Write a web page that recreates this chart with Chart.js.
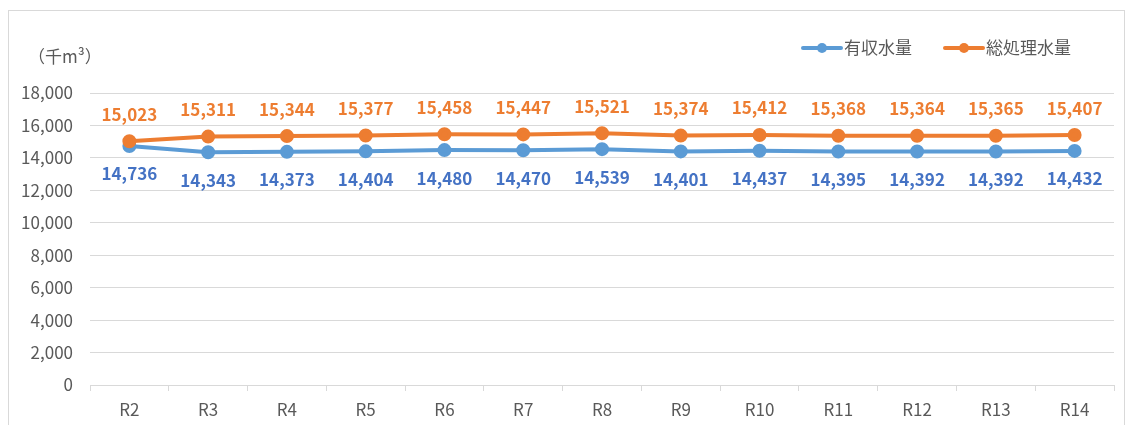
<!DOCTYPE html>
<html lang="ja">
<head>
<meta charset="utf-8">
<script src="https://cdn.jsdelivr.net/npm/chart.js@4.4.1/dist/chart.umd.min.js"></script>
<style>
  html, body { margin: 0; padding: 0; background: #fff; }
  #wrap { position: relative; width: 1131px; height: 425px; }
</style>
</head>
<body>
<div id="wrap"><canvas id="water-chart" width="1131" height="425"></canvas></div>
<script>
(() => {
  const years = ['R2', 'R3', 'R4', 'R5', 'R6', 'R7', 'R8', 'R9', 'R10', 'R11', 'R12', 'R13', 'R14'];
  const billedVolume = [14736, 14343, 14373, 14404, 14480, 14470, 14539, 14401, 14437, 14395, 14392, 14392, 14432];
  const treatedVolume = [15023, 15311, 15344, 15377, 15458, 15447, 15521, 15374, 15412, 15368, 15364, 15365, 15407];
  const yTicks = [0, 2000, 4000, 6000, 8000, 10000, 12000, 14000, 16000, 18000];
  const unitLabel = '（千m³）';

  const FONT = "'Noto Sans CJK JP', 'Noto Sans', sans-serif";
  const BLUE = '#5B9BD5';
  const BLUE_TEXT = '#4472C4';
  const ORANGE = '#ED7D31';
  const GREY_TEXT = '#595959';
  const GRID = '#d9d9d9';

  const canvas = document.getElementById('water-chart');
  if (!canvas || !window.Chart) {
    return;
  }

  // frame, unit label and legend like the Excel original
  const decorations = {
    id: 'decorations',
    beforeDraw(chart) {
      const ctx = chart.ctx;
      ctx.save();
      ctx.strokeStyle = GRID;
      ctx.lineWidth = 1;
      ctx.strokeRect(8.5, 10.5, 1116, 430);
      ctx.restore();
    },
    afterDraw(chart) {
      const ctx = chart.ctx;
      ctx.save();
      ctx.fillStyle = GREY_TEXT;
      ctx.font = `17px ${FONT}`;
      ctx.textBaseline = 'middle';
      ctx.textAlign = 'left';
      ctx.fillText(unitLabel, 28, 57);

      const items = [
        { ds: chart.data.datasets[0], x: 803 },
        { ds: chart.data.datasets[1], x: 945 },
      ];
      const y = 48;
      items.forEach(({ ds, x }) => {
        ctx.strokeStyle = ds.borderColor;
        ctx.lineWidth = 4;
        ctx.lineCap = 'round';
        ctx.beginPath();
        ctx.moveTo(x, y);
        ctx.lineTo(x + 38, y);
        ctx.stroke();
        ctx.fillStyle = ds.borderColor;
        ctx.beginPath();
        ctx.arc(x + 19, y, 5, 0, Math.PI * 2);
        ctx.fill();
        ctx.fillStyle = GREY_TEXT;
        ctx.fillText(ds.label, x + 41, y);
      });
      ctx.restore();
    },
  };

  // value labels: orange above the line, blue below
  const valueLabels = {
    id: 'valueLabels',
    afterDatasetsDraw(chart) {
      const ctx = chart.ctx;
      ctx.save();
      ctx.font = `bold 17px ${FONT}`;
      ctx.textAlign = 'center';
      ctx.textBaseline = 'middle';
      chart.data.datasets.forEach((ds, i) => {
        const meta = chart.getDatasetMeta(i);
        ctx.fillStyle = ds.labelColor;
        meta.data.forEach((pt, j) => {
          const text = ds.data[j].toLocaleString('en-US');
          ctx.fillText(text, pt.x, pt.y + ds.labelOffset);
        });
      });
      ctx.restore();
    },
  };

  new Chart(canvas, {
    type: 'line',
    data: {
      labels: years,
      datasets: [
        {
          label: '有収水量',
          data: billedVolume,
          borderColor: BLUE,
          backgroundColor: BLUE,
          pointBackgroundColor: BLUE,
          pointBorderColor: BLUE,
          borderWidth: 4,
          pointRadius: 5,
          tension: 0,
          order: 2,
          labelColor: BLUE_TEXT,
          labelOffset: 28,
        },
        {
          label: '総処理水量',
          data: treatedVolume,
          borderColor: ORANGE,
          backgroundColor: ORANGE,
          pointBackgroundColor: ORANGE,
          pointBorderColor: ORANGE,
          borderWidth: 4,
          pointRadius: 5,
          tension: 0,
          order: 1,
          labelColor: ORANGE,
          labelOffset: -27,
        },
      ],
    },
    options: {
      responsive: false,
      animation: false,
      layout: {
        padding: { top: 93, right: 17, left: 0, bottom: 0 },
      },
      scales: {
        x: {
          offset: true,
          grid: {
            offset: true,
            drawOnChartArea: false,
            drawTicks: true,
            tickLength: 6,
            color: GRID,
          },
          border: { display: true, color: GRID },
          ticks: {
            color: GREY_TEXT,
            padding: 8,
            font: { size: 17, family: FONT },
          },
          afterFit(scale) {
            scale.height = 40;
          },
        },
        y: {
          min: 0,
          max: 18000,
          afterBuildTicks(scale) {
            scale.ticks = yTicks.map((v) => ({ value: v }));
          },
          grid: { color: GRID, drawTicks: false },
          border: { display: false },
          ticks: {
            color: GREY_TEXT,
            padding: 17,
            font: { size: 17, family: FONT },
            callback: (v) => v.toLocaleString('en-US'),
          },
          afterFit(scale) {
            scale.width = 90;
          },
        },
      },
      plugins: {
        legend: { display: false },
        tooltip: { enabled: false },
      },
    },
    plugins: [decorations, valueLabels],
  });
})();
</script>
</body>
</html>
